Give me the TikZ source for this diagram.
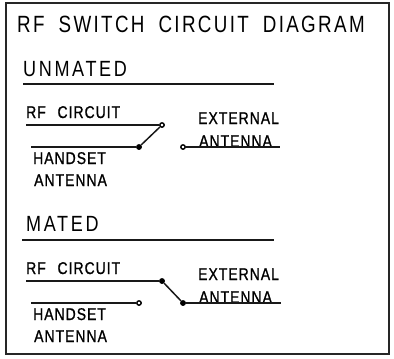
\documentclass[tikz,border=0pt]{standalone}
\usepackage{fontspec}
\setmainfont{Liberation Sans}
\newfontfamily\bigf[LetterSpace=10,WordSpace=1.85,FakeStretch=0.8]{Liberation Sans}
\newfontfamily\midf[LetterSpace=12,FakeStretch=0.82]{Liberation Sans}
\newfontfamily\smallf[LetterSpace=6,WordSpace=2.4,FakeStretch=0.82,FakeBold=1]{Liberation Sans}
\tikzset{
  wire/.style={line width=1.5pt,black!90},
  frame/.style={line width=1.6pt,black!85},
  rule/.style={line width=1.4pt,black!90},
  titletext/.style={anchor=base west,inner sep=0pt,font=\bigf\fontsize{23.5}{23.5}\selectfont},
  headtext/.style={anchor=base west,inner sep=0pt,font=\midf\fontsize{22}{22}\selectfont},
  labeltext/.style={anchor=base west,inner sep=0pt,font=\smallf\fontsize{17}{17}\selectfont},
  contact/.style={circle,draw=black,line width=1.4pt,fill=white,inner sep=0pt,minimum size=4.4pt},
  closed/.style={contact,fill=black}
}
\begin{document}
\begin{tikzpicture}[x=1pt,y=-1pt]
\useasboundingbox (0,0) rectangle (394,359);
\draw[frame] (6,3) rectangle (389,354);
\node[titletext] (title) at (17,32) {RF SWITCH CIRCUIT DIAGRAM};
\node[headtext] (unm) at (23,76) {UNMATED};
\coordinate (ul) at (23,84); \coordinate (ur) at (274,84);
\draw[rule] (ul) -- (ur);
% unmated
\node[labeltext] (rf1) at (26,118) {RF CIRCUIT};
\node[labeltext] (ext1) at (198,124) {EXTERNAL};
\node[labeltext] (ea1) at (199,147) {ANTENNA};
\node[labeltext] (hs1) at (33,164) {HANDSET};
\node[labeltext] (ha1) at (34,186) {ANTENNA};
\coordinate (a1) at (26,125); \coordinate (b1) at (31,147); \coordinate (c1) at (280,147);
\node[contact] (p1) at (162,125) {};
\node[closed] (q1) at (139,147) {};
\node[contact] (r1) at (183,147) {};
\draw[wire] (a1) -- (p1);
\draw[wire] (b1) -- (q1);
\draw[wire] (q1) -- (p1);
\draw[wire] (r1) -- (c1);
% mated
\node[headtext] (mat) at (26,231) {MATED};
\coordinate (ml) at (22,240); \coordinate (mr) at (274,240);
\draw[rule] (ml) -- (mr);
\node[labeltext] (rf2) at (26,274) {RF CIRCUIT};
\node[labeltext] (ext2) at (198,280) {EXTERNAL};
\node[labeltext] (ea2) at (199,303) {ANTENNA};
\node[labeltext] (hs2) at (33,320) {HANDSET};
\node[labeltext] (ha2) at (34,342) {ANTENNA};
\coordinate (a2) at (26,281); \coordinate (b2) at (31,303); \coordinate (c2) at (281,303);
\node[closed] (p2) at (162,281) {};
\node[contact] (q2) at (139,303) {};
\node[closed] (r2) at (183,303) {};
\draw[wire] (a2) -- (p2);
\draw[wire] (b2) -- (q2);
\draw[wire] (p2) -- (r2);
\draw[wire] (r2) -- (c2);
\end{tikzpicture}
\end{document}
